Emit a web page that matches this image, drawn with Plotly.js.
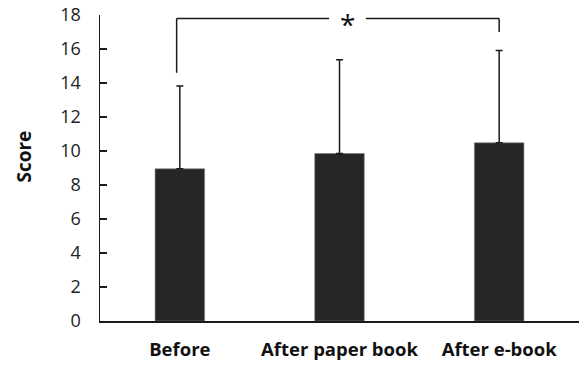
<!DOCTYPE html>
<html>
<head>
<meta charset="utf-8">
<script src="https://cdn.plot.ly/plotly-3.0.1.min.js"></script>
<style>html,body{margin:0;padding:0;background:#fff;}#chart{width:580px;height:365px;}</style>
</head>
<body>
<div id="chart"></div>
<script>
// Data
const categories = ["Before", "After paper book", "After e-book"];
const meanScores = [8.95, 9.85, 10.48];
const sdScores = [4.87, 5.52, 5.43];
const yTickValues = [0, 2, 4, 6, 8, 10, 12, 14, 16, 18];
const yTickLabels = ["0", "2", "4", "6", "8", "10", "12", "14", "16", "18"];
const yAxisLabel = "Score";

// Significance bracket (between group indices, in data units)
const sigPair = [0, 2];
const sigY = 17.8;
const sigLegBottom = [14.6, 17.0];
const sigLabel = "*";

const barColor = "#262626";
const lineColor = "#1a1a1a";

const trace = {
  type: "bar",
  x: categories,
  y: meanScores,
  width: 0.31,
  marker: {color: barColor, line: {color: "#7a7a7a", width: 0.6}},
  error_y: {
    type: "data",
    symmetric: false,
    array: sdScores,
    arrayminus: sdScores.map(() => 0),
    color: lineColor,
    thickness: 1.5,
    width: 3.5
  },
  hoverinfo: "skip"
};

// bracket geometry derived from sigPair
const leftX = sigPair[0] - 0.02;
const rightX = sigPair[1];
const starX = (sigPair[0] + sigPair[1]) / 2 + 0.05;
const gapHalf = 0.115;

const lineStyle = {color: lineColor, width: 1.5};
const shapes = [
  {type: "line", xref: "x", yref: "y", x0: leftX, x1: leftX, y0: sigLegBottom[0], y1: sigY, line: lineStyle},
  {type: "line", xref: "x", yref: "y", x0: leftX, x1: starX - gapHalf, y0: sigY, y1: sigY, line: lineStyle},
  {type: "line", xref: "x", yref: "y", x0: starX + gapHalf, x1: rightX, y0: sigY, y1: sigY, line: lineStyle},
  {type: "line", xref: "x", yref: "y", x0: rightX, x1: rightX, y0: sigLegBottom[1], y1: sigY, line: lineStyle}
];

const layout = {
  width: 580,
  height: 365,
  margin: {l: 100, r: 1, t: 14.5, b: 44, pad: 0},
  paper_bgcolor: "#ffffff",
  plot_bgcolor: "#ffffff",
  showlegend: false,
  font: {family: "Open Sans, sans-serif", color: "#1a1a1a"},
  xaxis: {
    type: "category",
    range: [-0.5, 2.5],
    showline: true,
    linecolor: lineColor,
    linewidth: 1.5,
    ticks: "",
    showgrid: false,
    zeroline: false,
    ticklabelstandoff: 11,
    tickfont: {family: "Open Sans, sans-serif", size: 18.5, weight: 700, color: "#111"}
  },
  yaxis: {
    range: [0, 18],
    tickvals: yTickValues,
    ticktext: yTickLabels,
    ticks: "inside",
    ticklen: 7,
    tickwidth: 1.5,
    tickcolor: lineColor,
    showline: true,
    linecolor: lineColor,
    linewidth: 1.5,
    showgrid: false,
    zeroline: false,
    ticklabelstandoff: 14,
    tickfont: {family: "Open Sans, sans-serif", size: 18, color: "#222"}
  },
  shapes: shapes,
  annotations: [
    {
      xref: "x", yref: "y", x: starX, y: sigY,
      text: sigLabel, showarrow: false,
      xanchor: "center", yanchor: "middle", yshift: -6,
      font: {family: "Open Sans, sans-serif", size: 28, color: "#111"}
    },
    {
      xref: "paper", yref: "paper", x: -0.159, y: 0.537,
      text: "<b>" + yAxisLabel + "</b>", showarrow: false,
      textangle: -90, xanchor: "center", yanchor: "middle",
      font: {family: "Open Sans, sans-serif", size: 19, color: "#111"}
    }
  ]
};

Plotly.newPlot("chart", [trace], layout, {displayModeBar: false, staticPlot: true});
</script>
</body>
</html>
